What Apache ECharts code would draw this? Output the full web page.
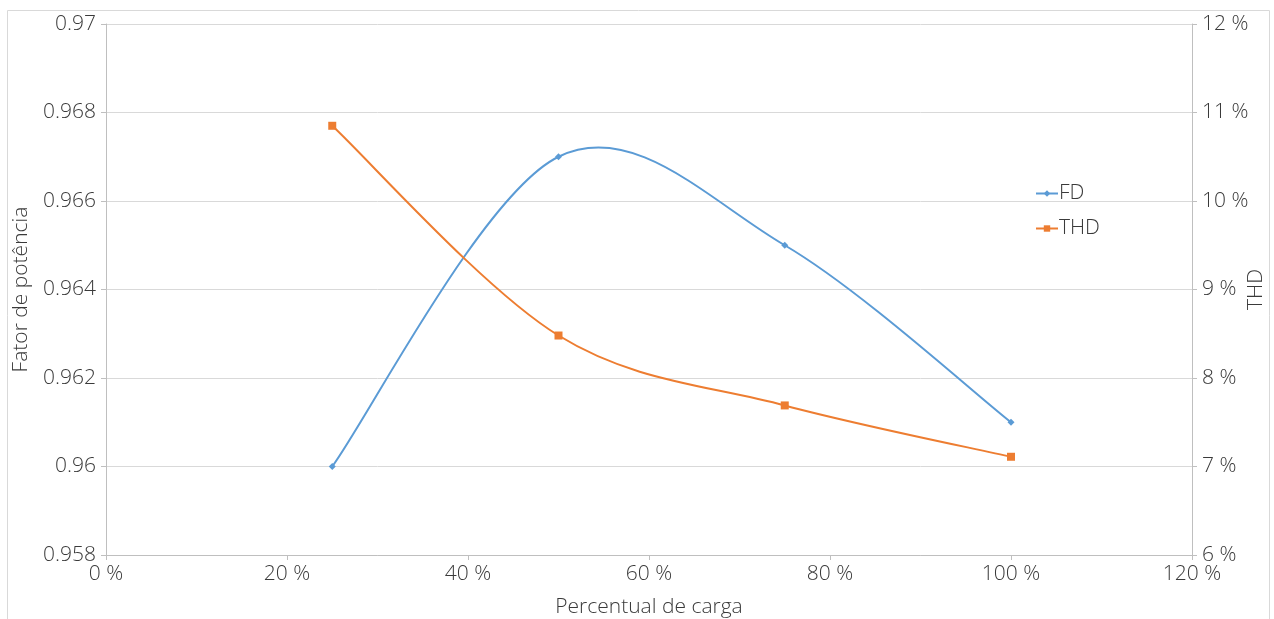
<!DOCTYPE html>
<html>
<head>
<meta charset="utf-8">
<script src="https://cdn.jsdelivr.net/npm/echarts@6/dist/echarts.min.js"></script>
<style>
html,body{margin:0;padding:0;background:#fff;}
#c{width:1274px;height:619px;}
</style>
</head>
<body>
<div id="c"></div>
<script>
const loadPct = [25, 50, 75, 100];
const fdValues = [0.960, 0.967, 0.965, 0.961];
const thdValues = [10.85, 8.48, 7.69, 7.11];
const xTicks = {min: 0, max: 120, interval: 20};
const leftTicks = {min: 0.958, max: 0.970, interval: 0.002};
const rightTicks = {min: 6, max: 12, interval: 1};

const FONT = '"Open Sans"';
const FW = 300;
const FS = 21;
const txt = '#3a3a3a';
const axisGrey = '#bfbfbf';
const FD_COLOR = '#5B9BD5';
const THD_COLOR = '#ED7D31';

// Excel-style smoothed line (Catmull-Rom Bezier) drawn from the axis scales.
function smoothRender(color) {
  return function (params, api) {
    if (params.dataIndex !== 0) return null;
    const pts = [];
    for (let i = 0; i < loadPct.length; i++) {
      pts.push(api.coord([api.value(0, i), api.value(1, i)]));
    }
    const children = [];
    for (let i = 0; i < pts.length - 1; i++) {
      const p0 = pts[Math.max(i - 1, 0)], p1 = pts[i], p2 = pts[i + 1], p3 = pts[Math.min(i + 2, pts.length - 1)];
      children.push({
        type: 'bezierCurve',
        shape: {
          x1: p1[0], y1: p1[1], x2: p2[0], y2: p2[1],
          cpx1: p1[0] + (p2[0] - p0[0]) / 6, cpy1: p1[1] + (p2[1] - p0[1]) / 6,
          cpx2: p2[0] - (p3[0] - p1[0]) / 6, cpy2: p2[1] - (p3[1] - p1[1]) / 6
        },
        style: {stroke: color, lineWidth: 2, fill: null}
      });
    }
    return {type: 'group', children: children};
  };
}

const lbl = {fontFamily: FONT, fontWeight: FW, fontSize: FS, color: txt};

const chart = echarts.init(document.getElementById('c'));
chart.setOption({
  animation: false,
  textStyle: {fontFamily: FONT, fontWeight: FW},
  graphic: [{
    type: 'rect', silent: true,
    shape: {x: 7.5, y: 10.5, width: 1262, height: 640},
    style: {fill: 'none', stroke: '#d9d9d9', lineWidth: 1}
  }],
  grid: {left: 106, right: 82, top: 24, bottom: 64, outerBoundsMode: 'none', containLabel: false},
  legend: {
    orient: 'vertical', left: 1030, top: 178,
    itemWidth: 22, itemHeight: 8, itemGap: 14,
    textStyle: Object.assign({}, lbl, {padding: [0, 0, 0, -4]}),
    data: [
      {name: 'FD', lineStyle: {opacity: 1, width: 2, color: FD_COLOR}},
      {name: 'THD', lineStyle: {opacity: 1, width: 2, color: THD_COLOR}}
    ]
  },
  xAxis: {
    type: 'value', min: xTicks.min, max: xTicks.max, interval: xTicks.interval,
    name: 'Percentual de carga', nameLocation: 'middle', nameGap: 42, nameMoveOverlap: false,
    nameTextStyle: lbl,
    axisLine: {show: true, lineStyle: {color: axisGrey}},
    axisTick: {show: true, length: 5, lineStyle: {color: axisGrey}},
    axisLabel: Object.assign({}, lbl, {margin: 9, formatter: v => v + ' %'}),
    splitLine: {show: false}
  },
  yAxis: [{
    type: 'value', position: 'left',
    min: leftTicks.min, max: leftTicks.max, interval: leftTicks.interval,
    name: 'Fator de potência', nameLocation: 'middle', nameGap: 74, nameMoveOverlap: false,
    nameTextStyle: lbl,
    axisLine: {show: true, lineStyle: {color: axisGrey}},
    axisTick: {show: true, length: 5, lineStyle: {color: axisGrey}},
    axisLabel: Object.assign({}, lbl, {margin: 10, formatter: v => String(+v.toFixed(3))}),
    splitLine: {show: true, lineStyle: {color: '#d9d9d9'}}
  }, {
    type: 'value', position: 'right',
    min: rightTicks.min, max: rightTicks.max, interval: rightTicks.interval,
    name: 'THD', nameLocation: 'middle', nameGap: 54, nameRotate: 90, nameMoveOverlap: false,
    nameTextStyle: lbl,
    axisLine: {show: true, lineStyle: {color: axisGrey}},
    axisTick: {show: true, length: 5, lineStyle: {color: axisGrey}},
    axisLabel: Object.assign({}, lbl, {margin: 10, formatter: v => v + ' %'}),
    splitLine: {show: false}
  }],
  series: [{
    name: 'FD curve', type: 'custom', yAxisIndex: 0, silent: true,
    renderItem: smoothRender(FD_COLOR),
    data: loadPct.map((x, i) => [x, fdValues[i]]),
    z: 2
  }, {
    name: 'THD curve', type: 'custom', yAxisIndex: 1, silent: true,
    renderItem: smoothRender(THD_COLOR),
    data: loadPct.map((x, i) => [x, thdValues[i]]),
    z: 2
  }, {
    name: 'FD', type: 'line', yAxisIndex: 0,
    data: loadPct.map((x, i) => [x, fdValues[i]]),
    symbol: 'diamond', symbolSize: 7,
    lineStyle: {color: FD_COLOR, width: 2, opacity: 0},
    itemStyle: {color: FD_COLOR},
    z: 3
  }, {
    name: 'THD', type: 'line', yAxisIndex: 1,
    data: loadPct.map((x, i) => [x, thdValues[i]]),
    symbol: 'rect', symbolSize: 8,
    lineStyle: {color: THD_COLOR, width: 2, opacity: 0},
    itemStyle: {color: THD_COLOR},
    z: 3
  }]
});
</script>
</body>
</html>
